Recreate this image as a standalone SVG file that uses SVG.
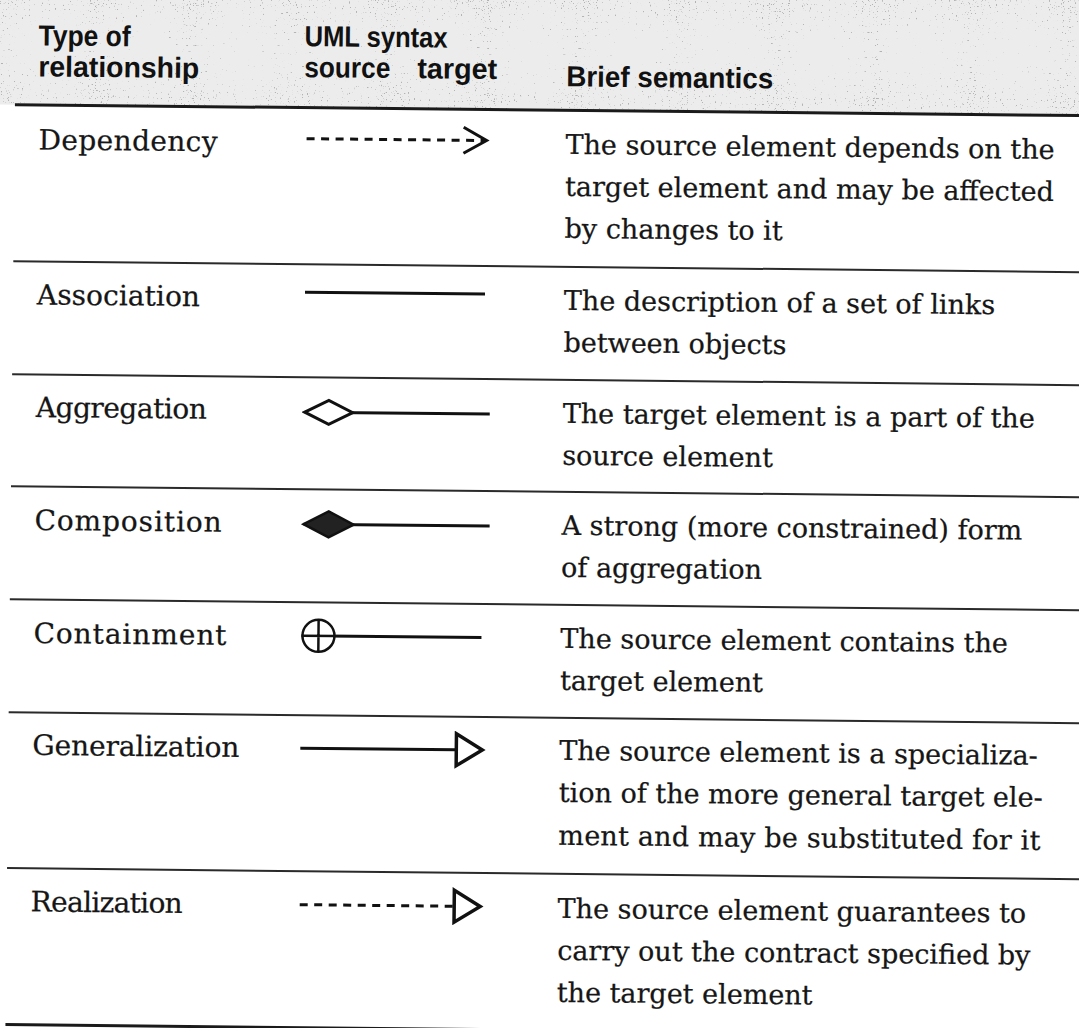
<svg xmlns="http://www.w3.org/2000/svg" width="1079" height="1028" viewBox="0 0 1079 1028">
  <defs>
    <style>
      .hd { font-family: "Liberation Sans", Arial, sans-serif; font-weight: bold; font-size: 29px; fill: #111; }
      .lbl { font-family: "DejaVu Serif", "Liberation Serif", serif; font-size: 28px; fill: #161616; stroke: #161616; stroke-width: 0.25; }
      .txt { font-family: "DejaVu Serif", "Liberation Serif", serif; font-size: 27px; fill: #161616; stroke: #161616; stroke-width: 0.25; }
      .rule { stroke: #2a2a2a; stroke-width: 2; fill: none; }
      .rule-heavy { stroke: #1a1a1a; stroke-width: 3; fill: none; }
      .solid { stroke: #111; stroke-width: 3; fill: none; }
      .dashed { stroke: #111; stroke-width: 3; fill: none; stroke-dasharray: 8 6.5; }
    </style>

    <!-- speckled halftone for the header band -->
    <filter id="grain" x="0" y="0" width="100%" height="100%">
      <feTurbulence type="fractalNoise" baseFrequency="0.85" numOctaves="1" seed="7" result="n"/>
      <feColorMatrix in="n" type="matrix"
        values="0 0 0 0 0.45
                0 0 0 0 0.45
                0 0 0 0 0.45
                14 0 0 0 -8.6"/>
    </filter>

    <!-- open arrowhead (dependency) -->
    <marker id="open-arrow" markerUnits="userSpaceOnUse" markerWidth="30" markerHeight="32"
            viewBox="-2 -2 30 32" refX="23" refY="13" orient="auto">
      <path d="M0,0 L23,13 L0,26" fill="none" stroke="#111" stroke-width="3"/>
    </marker>

    <!-- hollow triangle (generalization / realization) -->
    <marker id="hollow-tri" markerUnits="userSpaceOnUse" markerWidth="34" markerHeight="38"
            viewBox="-3 -3 34 38" refX="0" refY="16" orient="auto">
      <path d="M0,0 L26,16 L0,32 Z" fill="#fff" stroke="#111" stroke-width="3.5" stroke-linejoin="miter"/>
    </marker>

    <!-- hollow diamond (aggregation) -->
    <marker id="hollow-diamond" markerUnits="userSpaceOnUse" markerWidth="54" markerHeight="30"
            viewBox="-3 -3 54 30" refX="0" refY="12" orient="auto">
      <path d="M0,12 L24,0 L48,12 L24,24 Z" fill="#fff" stroke="#111" stroke-width="3"/>
    </marker>

    <!-- filled diamond (composition) -->
    <marker id="filled-diamond" markerUnits="userSpaceOnUse" markerWidth="56" markerHeight="32"
            viewBox="-3 -3 56 32" refX="0" refY="13" orient="auto">
      <path d="M0,13 L25,0 L50,13 L25,26 Z" fill="#222" stroke="#111" stroke-width="2.5"/>
    </marker>

    <!-- circled cross (containment) -->
    <marker id="circle-plus" markerUnits="userSpaceOnUse" markerWidth="40" markerHeight="40"
            viewBox="-3 -3 40 40" refX="0" refY="17" orient="auto">
      <circle cx="17" cy="17" r="16" fill="#fff" stroke="#111" stroke-width="2.5"/>
      <path d="M1,17 H33 M17,1 V33" stroke="#111" stroke-width="2.5"/>
    </marker>
  </defs>

  <rect width="1079" height="1028" fill="#fff"/>

  <!-- the printed page sits very slightly rotated -->
  <g transform="rotate(0.59)">

    <!-- header band -->
    <g id="header">
      <rect x="-30" y="-30" width="1140" height="134.5" fill="#ececec"/>
      <rect x="-30" y="-30" width="1140" height="134.5" filter="url(#grain)"/>
      <text class="hd" x="39" y="45" textLength="92" lengthAdjust="spacingAndGlyphs">Type of</text>
      <text class="hd" x="39" y="76" textLength="161" lengthAdjust="spacingAndGlyphs">relationship</text>
      <text class="hd" x="305" y="43" textLength="143" lengthAdjust="spacingAndGlyphs">UML syntax</text>
      <text class="hd" x="305" y="74" textLength="86" lengthAdjust="spacingAndGlyphs">source</text>
      <text class="hd" x="418" y="74" textLength="80" lengthAdjust="spacingAndGlyphs">target</text>
      <text class="hd" x="567" y="80.5" textLength="207" lengthAdjust="spacingAndGlyphs">Brief semantics</text>
    </g>

    <!-- table rules -->
    <g id="rules">
      <line class="rule-heavy" x1="16" y1="104.5" x2="1100" y2="104.5"/>
      <line class="rule" x1="16" y1="261" x2="1100" y2="261"/>
      <line class="rule" x1="16" y1="374" x2="1100" y2="374"/>
      <line class="rule" x1="16" y1="486" x2="1100" y2="486"/>
      <line class="rule" x1="16" y1="599" x2="1100" y2="599"/>
      <line class="rule" x1="16" y1="712" x2="1100" y2="712"/>
      <line class="rule" x1="16" y1="868" x2="1100" y2="868"/>
      <line class="rule-heavy" x1="16" y1="1024.5" x2="1100" y2="1024.5" stroke-width="3.5"/>
    </g>

    <g id="row-dependency">
      <text class="lbl" x="40" y="149" textLength="179">Dependency</text>
      <text class="txt" x="567" y="148">The source element depends on the</text>
      <text class="txt" x="567" y="190">target element and may be affected</text>
      <text class="txt" x="567" y="232">by changes to it</text>
    </g>

    <g id="row-association">
      <text class="lbl" x="40" y="304" textLength="163">Association</text>
      <text class="txt" x="567" y="304">The description of a set of links</text>
      <text class="txt" x="567" y="346">between objects</text>
    </g>

    <g id="row-aggregation">
      <text class="lbl" x="40" y="416.5" textLength="171">Aggregation</text>
      <text class="txt" x="567" y="417">The target element is a part of the</text>
      <text class="txt" x="567" y="459">source element</text>
    </g>

    <g id="row-composition">
      <text class="lbl" x="40" y="529.5" textLength="187">Composition</text>
      <text class="txt" x="567" y="529">A strong (more constrained) form</text>
      <text class="txt" x="567" y="571">of aggregation</text>
    </g>

    <g id="row-containment">
      <text class="lbl" x="40" y="642.5" textLength="193">Containment</text>
      <text class="txt" x="567" y="642">The source element contains the</text>
      <text class="txt" x="567" y="684">target element</text>
    </g>

    <g id="row-generalization">
      <text class="lbl" x="40" y="754.5" textLength="207">Generalization</text>
      <text class="txt" x="567" y="754">The source element is a specializa-</text>
      <text class="txt" x="567" y="796">tion of the more general target ele-</text>
      <text class="txt" x="567" y="839" textLength="482">ment and may be substituted for it</text>
    </g>

    <g id="row-realization">
      <text class="lbl" x="40" y="911" textLength="152">Realization</text>
      <text class="txt" x="567" y="912">The source element guarantees to</text>
      <text class="txt" x="567" y="954">carry out the contract specified by</text>
      <text class="txt" x="567" y="996">the target element</text>
    </g>

    <!-- UML notation samples -->
    <g id="connectors">
      <line class="dashed" x1="308" y1="135.5" x2="488" y2="135.5" marker-end="url(#open-arrow)"/>
      <line class="solid" x1="308" y1="289" x2="488" y2="289"/>
      <line class="solid" x1="309" y1="409" x2="494" y2="409" marker-start="url(#hollow-diamond)"/>
      <line class="solid" x1="309" y1="521" x2="495" y2="521" marker-start="url(#filled-diamond)"/>
      <line class="solid" x1="308" y1="632.5" x2="488" y2="632.5" marker-start="url(#circle-plus)"/>
      <line class="solid" x1="308" y1="745" x2="464" y2="745" marker-end="url(#hollow-tri)"/>
      <line class="dashed" x1="309" y1="901.5" x2="463.5" y2="901.5" marker-end="url(#hollow-tri)"/>
    </g>
  </g>
</svg>
